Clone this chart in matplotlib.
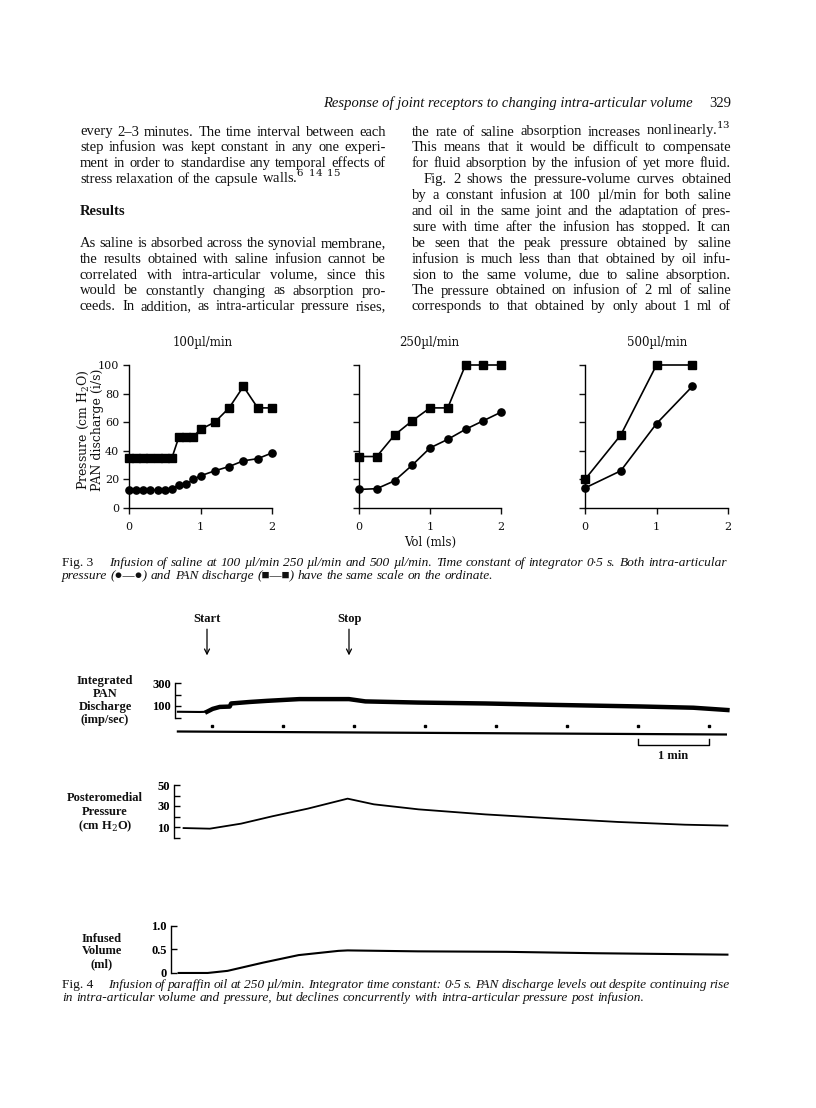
import matplotlib
matplotlib.use("Agg")
import matplotlib.pyplot as plt

W, H = 816, 1108
plt.rcParams['mathtext.fontset'] = 'dejavuserif'

# ---------------- Fig. 3 data (volume in ml) ----------------
rate_titles = ["100µl/min", "250µl/min", "500µl/min"]

vol_100 = [0, 0.1, 0.2, 0.3, 0.4, 0.5, 0.6, 0.7, 0.8, 0.9, 1.0, 1.2, 1.4, 1.6, 1.8, 2.0]
pan_100 = [35, 35, 35, 35, 35, 35, 35, 50, 50, 50, 55, 60, 70, 85, 70, 70]
pr_100 = [12.5, 12.5, 12.5, 12.5, 12.5, 12.5, 13.5, 16, 16.5, 20, 22.5, 26, 29, 33, 34.5, 38.5]

vol_250 = [0, 0.25, 0.5, 0.75, 1.0, 1.25, 1.5, 1.75, 2.0]
pan_250 = [36, 36, 51, 61, 70, 70, 100, 100, 100]
pr_250 = [13, 13.5, 19, 30, 42, 48, 55, 61, 67]

vol_500 = [0, 0.5, 1.0, 1.5]
pan_500 = [20, 51, 100, 100]
pr_500 = [14, 26, 59, 85]

# ---------------- Fig. 4 data (time in min from start) ----------------
pan_t = [-0.41, -0.1, 0.0, 0.08, 0.18, 0.32, 0.34, 0.6, 0.85, 1.3, 2.0, 2.23, 2.97, 3.92, 4.85, 6.1, 6.85, 7.33]
pan_v = [50, 48, 50, 75, 92, 95, 122, 135, 145, 160, 160, 140, 130, 122, 110, 96, 85, 65]

press_t = [-0.33, 0.04, 0.48, 0.92, 1.42, 1.98, 2.35, 2.98, 3.92, 4.85, 5.79, 6.73, 7.33]
press_v = [9.0, 8.4, 13.2, 20.2, 27.5, 37, 31.6, 26.8, 22, 18.3, 14.8, 12.2, 11.3]

vol_t = [-0.4, 0.01, 0.29, 0.79, 1.29, 1.85, 1.98, 2.97, 4.22, 5.48, 7.33]
vol_v = [-0.01, -0.01, 0.035, 0.21, 0.37, 0.46, 0.47, 0.45, 0.44, 0.41, 0.38]

event_t = [0.0, 2.0]
event_labels = ["Start", "Stop"]
minute_marks = [0.07, 1.07, 2.07, 3.07, 4.07, 5.07, 6.07, 7.07]

fig = plt.figure(figsize=(W / 100, H / 100), dpi=100)
renderer = fig.canvas.get_renderer()


def fx(x):
    return x / W


def fy(y):
    return 1 - y / H


def add_ax(l, t, r, b):
    return fig.add_axes([fx(l), fy(b), (r - l) / W, (b - t) / H])


BODY = dict(family='Liberation Serif', fontsize=10.5, color='#111')


def text_line(x0, x1, y, line, justify=True, **kw):
    words = line.split(' ')
    objs = [fig.text(0, fy(y), w, va='baseline', ha='left', **kw) for w in words]
    widths = [o.get_window_extent(renderer).width for o in objs]
    if justify and len(objs) > 1:
        gap = (x1 - x0 - sum(widths)) / (len(objs) - 1)
    else:
        gap = 0.25 * kw.get('fontsize', 10) * 100 / 72
    x = x0
    for o, w in zip(objs, widths):
        o.set_x(fx(x))
        x += w + gap


# ---------------- running head and body text ----------------
fig.text(fx(693), fy(107), "Response of joint receptors to changing intra-articular volume",
         ha='right', va='baseline', style='italic', **BODY)
fig.text(fx(731), fy(107), "329", ha='right', va='baseline', **BODY)

left_col = [
    (0, "every 2–3 minutes. The time interval between each", True),
    (1, "step infusion was kept constant in any one experi-", True),
    (2, "ment in order to standardise any temporal effects of", True),
    (3, r"stress relaxation of the capsule walls.$^{6\;\;14\;\;15}$", False),
    (7, "As saline is absorbed across the synovial membrane,", True),
    (8, "the results obtained with saline infusion cannot be", True),
    (9, "correlated with intra-articular volume, since this", True),
    (10, "would be constantly changing as absorption pro-", True),
    (11, "ceeds. In addition, as intra-articular pressure rises,", True),
]
right_col = [
    (0, r"the rate of saline absorption increases nonlinearly.$^{13}$", True),
    (1, "This means that it would be difficult to compensate", True),
    (2, "for fluid absorption by the infusion of yet more fluid.", True),
    (3, "Fig. 2 shows the pressure-volume curves obtained", True),
    (4, "by a constant infusion at 100 µl/min for both saline", True),
    (5, "and oil in the same joint and the adaptation of pres-", True),
    (6, "sure with time after the infusion has stopped. It can", True),
    (7, "be seen that the peak pressure obtained by saline", True),
    (8, "infusion is much less than that obtained by oil infu-", True),
    (9, "sion to the same volume, due to saline absorption.", True),
    (10, "The pressure obtained on infusion of 2 ml of saline", True),
    (11, "corresponds to that obtained by only about 1 ml of", True),
]
line0, lead = 135.5, 15.9
for k, s, j in left_col:
    text_line(80, 386, line0 + k * lead, s, j, **BODY)
for k, s, j in right_col:
    text_line(424 if k == 3 else 412, 731, line0 + k * lead, s, j, **BODY)
fig.text(fx(80), fy(line0 + 5 * lead), "Results", va='baseline', weight='bold', **BODY)

# ---------------- Fig. 3 ----------------
LAB = dict(family='DejaVu Serif', color='#111')
panels = [
    (vol_100, pan_100, pr_100, 129, 272),
    (vol_250, pan_250, pr_250, 359, 501),
    (vol_500, pan_500, pr_500, 585, 728),
]
title_x = [202.5, 429, 656.7]
for i, (vol, pan, pr, l, r) in enumerate(panels):
    ax = add_ax(l, 365, r, 508)
    ax.plot(vol, pan, '-s', color='k', ms=5.2, lw=1.2, clip_on=False, zorder=3)
    ax.plot(vol, pr, '-o', color='k', ms=5.2, lw=1.2, clip_on=False, zorder=3)
    ax.set_xlim(0, 2)
    ax.set_ylim(0, 100)
    ax.set_facecolor('none')
    for s in ('top', 'right'):
        ax.spines[s].set_visible(False)
    for s in ('left', 'bottom'):
        ax.spines[s].set_linewidth(1.0)
    ax.set_xticks([0, 1, 2])
    ax.set_yticks(range(0, 101, 20))
    ax.tick_params(direction='out', length=4, width=1, labelsize=8, pad=3, colors='#111')
    ax.tick_params(axis='x', pad=6)
    if i > 0:
        ax.set_yticklabels([])
    for lab in ax.get_xticklabels() + ax.get_yticklabels():
        lab.set_family('DejaVu Serif')
    fig.text(fx(title_x[i]), fy(342.5), rate_titles[i], ha='center', va='center',
             fontsize=8.5, **LAB)

fig.text(fx(83), fy(430), "Pressure (cm H$_2$O)", rotation=90, ha='center', va='center',
         fontsize=9, **LAB)
fig.text(fx(97), fy(430), "PAN discharge (i/s)", rotation=90, ha='center', va='center',
         fontsize=9, **LAB)
fig.text(fx(430), fy(542), "Vol (mls)", ha='center', va='center', fontsize=8.5, **LAB)

CAP = dict(family=['Liberation Serif', 'DejaVu Sans'], fontsize=9.6, color='#111')
fig.text(fx(62), fy(566), "Fig. 3", va='baseline', **CAP)
text_line(109, 727, 566, "Infusion of saline at 100 µl/min 250 µl/min and 500 µl/min. "
          "Time constant of integrator 0·5 s. Both intra-articular", True, style='italic', **CAP)
text_line(62, 727, 579, "pressure (●—●) and PAN discharge (■—■) have the same scale on the ordinate.",
          False, style='italic', **CAP)

# ---------------- Fig. 4 ----------------
F4 = dict(family='Liberation Serif', weight='bold', fontsize=9, color='#111')
t_right = (727 - 207) / 71


def bracket_axis(ax, ticks, labels, lo, hi, l_px):
    ax.set_xlim((l_px - 207) / 71, t_right)
    ax.set_ylim(lo, hi)
    ax.set_facecolor('none')
    for s in ('top', 'right', 'bottom'):
        ax.spines[s].set_visible(False)
    ax.spines['left'].set_linewidth(1.0)
    ax.set_xticks([])
    ax.set_yticks(ticks)
    ax.set_yticklabels(labels)
    ax.tick_params(axis='y', direction='in', length=4, width=1, pad=3, labelsize=9)
    for lab in ax.get_yticklabels():
        lab.set_family('Liberation Serif')
        lab.set_weight('bold')


ax_pan = add_ax(175, 683, 727, 717.5)
pre = [i for i, t in enumerate(pan_t) if t <= 0.0]
post = [i for i, t in enumerate(pan_t) if t >= 0.0]
ax_pan.plot([pan_t[i] for i in pre], [pan_v[i] for i in pre], color='k', lw=1.5, clip_on=False)
ax_pan.plot([pan_t[i] for i in post], [pan_v[i] for i in post], color='k', lw=3.2,
            solid_joinstyle='round', clip_on=False)
bracket_axis(ax_pan, [0, 100, 200, 300], ['', '100', '', '300'], 0, 300, 175)

tr = ax_pan.get_xaxis_transform()
for t, lab in zip(event_t, event_labels):
    ax_pan.annotate('', xy=(t, 1.8), xytext=(t, 2.56), xycoords=tr, textcoords=tr,
                    arrowprops=dict(arrowstyle='->', lw=0.9, color='k', shrinkA=0, shrinkB=0,
                                    mutation_scale=9))
    ax_pan.text(t, 2.86, lab, transform=tr, ha='center', va='center', **F4)

# time-marker strip
ax_m = add_ax(175, 720, 727, 765)
ax_m.set_xlim((175 - 207) / 71, t_right)
ax_m.set_ylim(0, 45)
ax_m.axis('off')
ax_m.plot([-0.41, 7.32], [33.5, 30.5], color='k', lw=1.6)
ax_m.plot(minute_marks, [39] * len(minute_marks), 's', color='k', ms=1.6)
ax_m.plot([minute_marks[-2], minute_marks[-2], minute_marks[-1], minute_marks[-1]],
          [26, 20, 20, 26], color='k', lw=1.0)
ax_m.text((minute_marks[-2] + minute_marks[-1]) / 2, 9, "1 min", ha='center', va='center',
          **F4)

ax_pr = add_ax(174, 785, 727, 837.5)
ax_pr.plot(press_t, press_v, color='k', lw=1.3, clip_on=False)
bracket_axis(ax_pr, [0, 10, 20, 30, 40, 50], ['', '10', '', '30', '', '50'], 0, 50, 174)

ax_vol = add_ax(171, 925.5, 727, 972.5)
ax_vol.plot(vol_t, vol_v, color='k', lw=1.5, clip_on=False)
bracket_axis(ax_vol, [0, 0.5, 1.0], ['0', '0.5', '1.0'], 0, 1.0, 171)

for y, s in zip([681, 694, 707, 720], ["Integrated", "PAN", "Discharge", "(imp/sec)"]):
    fig.text(fx(105), fy(y), s, ha='center', va='center', **F4)
for y, s in zip([798, 812, 826], ["Posteromedial", "Pressure", "(cm H$_2$O)"]):
    fig.text(fx(105), fy(y), s, ha='center', va='center', **F4)
for y, s in zip([939, 951, 964], ["Infused", "Volume", "(ml)"]):
    fig.text(fx(102), fy(y), s, ha='center', va='center', **F4)

fig.text(fx(62), fy(988), "Fig. 4", va='baseline', **CAP)
text_line(108, 730, 988, "Infusion of paraffin oil at 250 µl/min. Integrator time constant: 0·5 s. "
          "PAN discharge levels out despite continuing rise", True, style='italic', **CAP)
text_line(62, 730, 1001, "in intra-articular volume and pressure, but declines concurrently with "
          "intra-articular pressure post infusion.", False, style='italic', **CAP)

fig.savefig("out.png", dpi=100, facecolor='white')
